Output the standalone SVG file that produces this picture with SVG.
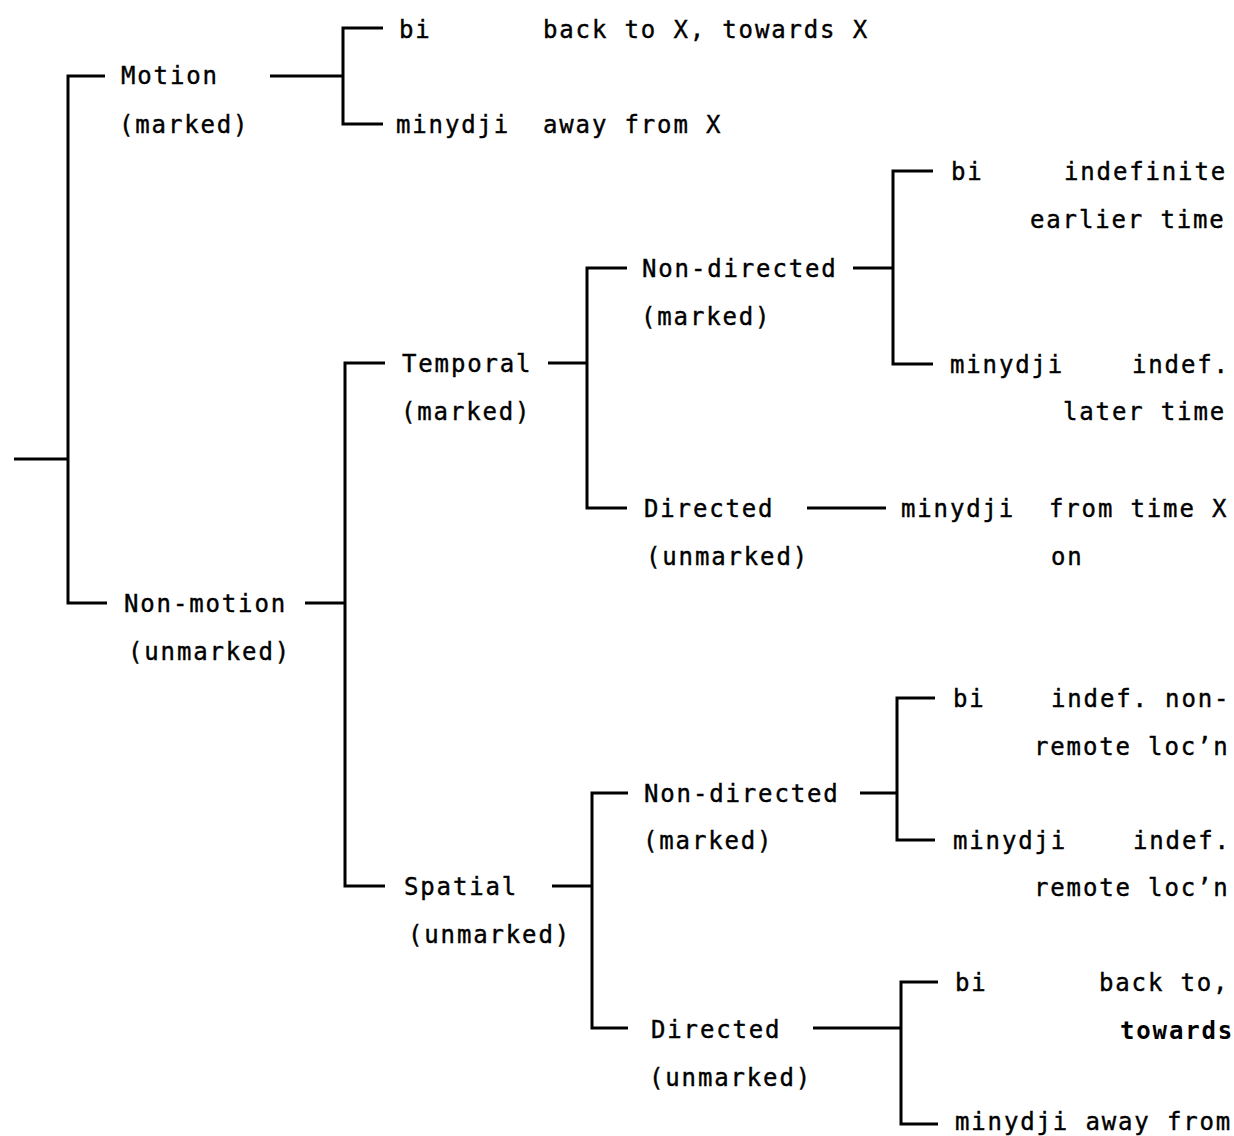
<svg xmlns="http://www.w3.org/2000/svg" width="1234" height="1136" viewBox="0 0 1234 1136">
<style>
text{font-family:"DejaVu Sans Mono","Liberation Mono",monospace;font-size:24px;letter-spacing:1.85px;fill:#000;stroke:#000;stroke-width:0.4}
.b{font-weight:bold;stroke-width:0}
.c path{fill:none;stroke:#000;stroke-width:3;stroke-linecap:butt;stroke-linejoin:miter}
</style>
<rect width="1234" height="1136" fill="#fff"/>
<g class="c" id="connectors">
<path d="M14 459H68M105 76H68V603H107"/>
<path d="M270 76H343M383 28H343V124H383"/>
<path d="M305 603H345M385 363H345V886H385"/>
<path d="M548 363H587M627 268H587V508H627"/>
<path d="M853 268H893M933 171H893V364H933"/>
<path d="M807 508H886"/>
<path d="M552 886H592M628 793H592V1028H628"/>
<path d="M860 793H897M935 698H897V840H935"/>
<path d="M813 1028H901M938 982H901V1124H938"/>
</g>
<g id="motion"><text x="121" y="84">Motion</text><text x="119" y="133">(marked)</text></g>
<g id="motion-bi"><text x="399" y="38">bi</text><text x="543" y="38">back to X, towards X</text></g>
<g id="motion-minydji"><text x="396" y="133">minydji</text><text x="543" y="133">away from X</text></g>
<g id="nonmotion"><text x="124" y="612">Non-motion</text><text x="128" y="660">(unmarked)</text></g>
<g id="temporal"><text x="402" y="372">Temporal</text><text x="401" y="420">(marked)</text></g>
<g id="temporal-nondirected"><text x="642" y="277">Non-directed</text><text x="641" y="325">(marked)</text></g>
<g id="temporal-nd-bi"><text x="951" y="180">bi</text><text x="1064" y="180">indefinite</text><text x="1030" y="228">earlier time</text></g>
<g id="temporal-nd-minydji"><text x="950" y="373">minydji</text><text x="1132" y="373">indef.</text><text x="1063" y="420">later time</text></g>
<g id="temporal-directed"><text x="644" y="517">Directed</text><text x="646" y="565">(unmarked)</text></g>
<g id="temporal-d-minydji"><text x="901" y="517">minydji</text><text x="1049" y="517">from time X</text><text x="1051" y="565">on</text></g>
<g id="spatial"><text x="404" y="895">Spatial</text><text x="408" y="943">(unmarked)</text></g>
<g id="spatial-nondirected"><text x="644" y="802">Non-directed</text><text x="643" y="849">(marked)</text></g>
<g id="spatial-nd-bi"><text x="953" y="707">bi</text><text x="1051" y="707">indef. non-</text><text x="1034" y="755">remote loc’n</text></g>
<g id="spatial-nd-minydji"><text x="953" y="849">minydji</text><text x="1133" y="849">indef.</text><text x="1034" y="896">remote loc’n</text></g>
<g id="spatial-directed"><text x="651" y="1038">Directed</text><text x="649" y="1086">(unmarked)</text></g>
<g id="spatial-d-bi"><text x="955" y="991">bi</text><text x="1099" y="991">back to,</text><text class="b" x="1120" y="1039">towards</text></g>
<g id="spatial-d-minydji"><text x="955" y="1130">minydji away from</text></g>
</svg>
